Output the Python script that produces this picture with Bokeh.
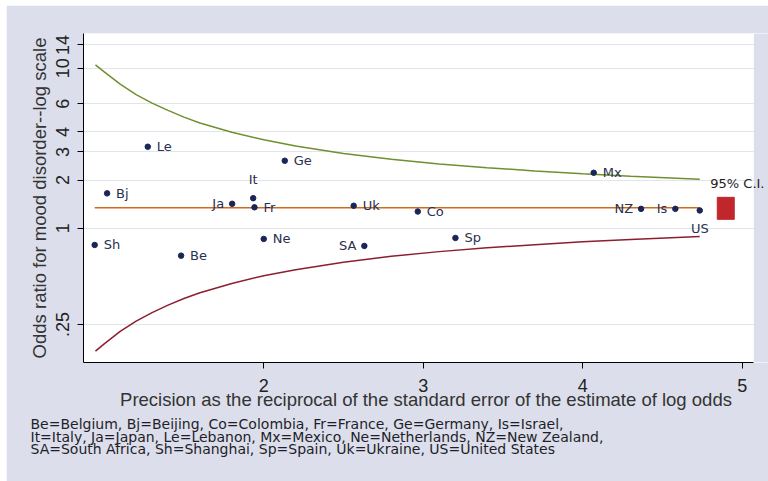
from bokeh.plotting import figure
from bokeh.models import FixedTicker, Range1d, Label, Title, ColumnDataSource, BoxAnnotation
from bokeh.core.properties import value
from bokeh.embed import file_html
from bokeh.resources import INLINE

# ---- data ----
countries = ["Sh", "Bj", "Le", "Be", "Ja", "It", "Fr", "Ne", "Ge", "Uk", "SA", "Co", "Sp", "Mx", "NZ", "Is", "US"]
precision = [0.940, 1.018, 1.273, 1.482, 1.802, 1.934, 1.942, 2.000, 2.132, 2.564, 2.631, 2.966, 3.202, 4.069, 4.366, 4.581, 4.734]
odds_ratio = [0.785, 1.65, 3.23, 0.673, 1.42, 1.54, 1.35, 0.856, 2.64, 1.38, 0.774, 1.27, 0.868, 2.22, 1.32, 1.32, 1.29]
label_side = ["right", "right", "right", "right", "left", "above", "right", "right", "right", "right", "left",
              "right", "right", "right", "left", "left", "below"]

pooled_or = 1.34

ci_precision = [0.945, 1.0, 1.1, 1.2, 1.3, 1.4, 1.5, 1.6, 1.8, 2.0, 2.2, 2.5, 2.8, 3.1, 3.4, 3.7, 4.0, 4.3, 4.734]
ci_upper = [10.5, 9.5, 7.95, 6.85, 6.05, 5.45, 4.95, 4.55, 3.98, 3.57, 3.26, 2.93, 2.70, 2.52, 2.39, 2.28, 2.19, 2.11, 2.02]
ci_lower = [0.170, 0.189, 0.226, 0.262, 0.296, 0.330, 0.363, 0.394, 0.451, 0.504, 0.549, 0.612, 0.667, 0.713, 0.753, 0.788, 0.822, 0.848, 0.886]

y_ticks = [0.25, 1, 2, 3, 4, 6, 10, 14]
y_tick_labels = [".25", "1", "2", "3", "4", "6", "10", "14"]
x_ticks = [2, 3, 4, 5]

legend_text = "95% C.I."
footnotes = [
    "Be=Belgium, Bj=Beijing, Co=Colombia, Fr=France, Ge=Germany, Is=Israel,",
    "It=Italy, Ja=Japan, Le=Lebanon, Mx=Mexico, Ne=Netherlands, NZ=New Zealand,",
    "SA=South Africa, Sh=Shanghai, Sp=Spain, Uk=Ukraine, US=United States",
]

# ---- styles ----
BG = "#dcdfeb"
NAVY = "#1c2558"
LABEL_C = "#2a3050"
GREEN = "#6f8f30"
MAROON = "#8b1f2f"
ORANGE = "#d06a1c"
RED = "#c0272d"

X_VIEW = (0.870, 5.165)      # visible x extent (right part covered by the page colour)
X_PLOT_END = 5.073           # where the white plot region ends
Y_VIEW = (0.1444, 16.5)

p = figure(width=762, height=476, y_axis_type="log",
           x_range=Range1d(*X_VIEW), y_range=Range1d(*Y_VIEW),
           output_backend="svg", toolbar_location=None,
           min_border_left=77, min_border_right=0, min_border_top=28, min_border_bottom=119)
p.styles = {"margin-left": "6px", "margin-top": "5px"}
p.border_fill_color = BG
p.background_fill_color = "white"
p.outline_line_color = None

# CI curves and pooled line
p.line(ci_precision, ci_upper, line_color=GREEN, line_width=1.5)
p.line(ci_precision, ci_lower, line_color=MAROON, line_width=1.5)
p.line([min(precision), max(precision)], [pooled_or, pooled_or], line_color=ORANGE, line_width=1.5)

# points
p.scatter(precision, odds_ratio, size=5.5, fill_color=NAVY, line_color=NAVY)

offsets = {"right": (9, 0, "left", "middle"), "left": (-8, 0, "right", "middle"),
           "above": (0, -11, "center", "bottom"), "below": (0, 11, "center", "top")}
for side, (dx, dy, al, bl) in offsets.items():
    idx = [i for i, s in enumerate(label_side) if s == side]
    if not idx:
        continue
    src = ColumnDataSource(dict(x=[precision[i] for i in idx], y=[odds_ratio[i] for i in idx],
                                t=[countries[i] for i in idx]))
    p.text(x="x", y="y", text="t", source=src, x_offset=dx, y_offset=dy, text_align=al,
           text_baseline=bl, text_font=value("DejaVu Sans"), text_font_size="13px", text_color=LABEL_C)

# page-coloured strip right of the plot region
p.add_layout(BoxAnnotation(left=X_PLOT_END, fill_color=BG, fill_alpha=1, line_color=None))

# legend key
p.rect(x=[4.897], y=[1.33], width=17, height=22, width_units="screen", height_units="screen",
       fill_color=RED, line_color=RED)
p.add_layout(Label(x=4.80, y=1.89, text=legend_text, text_baseline="middle", text_font="DejaVu Sans",
                   text_font_size="13px", text_color="#222222"))

# axes
p.xgrid.grid_line_color = None
p.ygrid.grid_line_color = "#e2e4ec"
p.ygrid.grid_line_width = 1

p.yaxis.ticker = FixedTicker(ticks=y_ticks)
p.yaxis.major_label_overrides = {t: l for t, l in zip(y_ticks, y_tick_labels)}
p.yaxis.major_label_orientation = "vertical"
p.xaxis.ticker = FixedTicker(ticks=x_ticks)
p.xaxis.bounds = (X_VIEW[0], X_PLOT_END)

for ax in (p.xaxis, p.yaxis):
    ax.axis_line_color = "black"
    ax.major_tick_line_color = "black"
    ax.minor_tick_line_color = None
    ax.major_tick_in = 0
    ax.major_tick_out = 6
    ax.major_label_text_font = "Liberation Sans"
    ax.major_label_text_font_size = "18px"
    ax.major_label_text_color = "#222222"
    ax.axis_label_text_font = "Liberation Sans"
    ax.axis_label_text_font_size = "18.5px"
    ax.axis_label_text_font_style = "normal"
    ax.axis_label_text_color = "#333333"

p.yaxis.axis_label = "Odds ratio for mood disorder--log scale"
p.yaxis.major_label_standoff = 8
p.yaxis.axis_label_standoff = 4
p.xaxis.axis_label = "Precision as the reciprocal of the standard error of the estimate of log odds"
p.xaxis.major_label_standoff = 10
p.xaxis.axis_label_standoff = -6

p.add_layout(Title(text="\n".join(footnotes), align="left", offset=-53, standoff=2, text_font="DejaVu Sans",
                   text_font_size="14px", text_font_style="normal", text_color="#1e1e2a",
                   text_line_height=0.8), "below")

open("out.html", "w").write(file_html(p, INLINE))
